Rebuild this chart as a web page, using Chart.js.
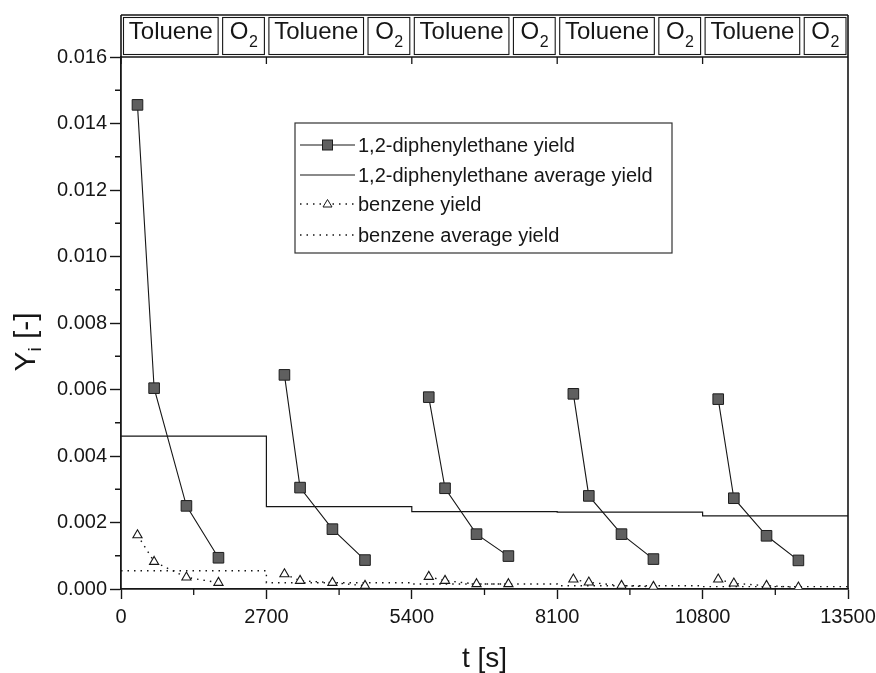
<!DOCTYPE html>
<html>
<head>
<meta charset="utf-8">
<script src="https://cdn.jsdelivr.net/npm/chart.js@4.4.0/dist/chart.umd.min.js"></script>
<style>
  html, body { margin: 0; padding: 0; background: #ffffff; }
  #wrap { width: 876px; height: 673px; }
</style>
</head>
<body>
<div id="wrap"><canvas id="c" width="876" height="673"></canvas></div>
<script>
// ---------------- data ----------------
const cycleStarts = [0, 2700, 5400, 8100, 10800];
const cycleLength = 2700;
const tolueneDuration = 1850;
const phaseLabels = ['Toluene', 'O', '2'];
const xTicks = [0, 2700, 5400, 8100, 10800, 13500];
const yTicks = [0, 0.002, 0.004, 0.006, 0.008, 0.010, 0.012, 0.014, 0.016];

const sampleTimes = [
  306, 615, 1215, 1810,
  3035, 3325, 3926, 4531,
  5715, 6017, 6602, 7194,
  8400, 8687, 9294, 9887,
  11090, 11380, 11987, 12579
];
const dpeYield = [
  0.01456, 0.00604, 0.00250, 0.00094,
  0.00644, 0.00305, 0.00180, 0.00087,
  0.00577, 0.00303, 0.00165, 0.00099,
  0.00587, 0.00280, 0.00165, 0.00090,
  0.00571, 0.00273, 0.00160, 0.00086
];
const benzeneYield = [
  0.00162, 0.00082, 0.00035, 0.00019,
  0.00045, 0.00025, 0.00019, 0.00010,
  0.00037, 0.00025, 0.00015, 0.00015,
  0.00029, 0.00020, 0.00010, 0.00007,
  0.00029, 0.00017, 0.00010, 0.00005
];
const dpeAverage = [0.00460, 0.00248, 0.00233, 0.00231, 0.00220];
const benzeneAverage = [0.00055, 0.00019, 0.00015, 0.00010, 0.00007];

const seriesLabels = [
  '1,2-diphenylethane yield',
  '1,2-diphenylethane average yield',
  'benzene yield',
  'benzene average yield'
];

// ---------------- build datasets from arrays ----------------
function cycleOf(t) {
  let c = 0;
  cycleStarts.forEach((s, i) => { if (t >= s) c = i; });
  return c;
}
function segmented(values) {
  const pts = [];
  sampleTimes.forEach((t, i) => {
    if (i > 0 && cycleOf(t) !== cycleOf(sampleTimes[i - 1])) {
      pts.push({ x: cycleStarts[cycleOf(t)], y: null });
    }
    pts.push({ x: t, y: values[i] });
  });
  return pts;
}
function stepped(values) {
  const pts = cycleStarts.map((s, i) => ({ x: s, y: values[i] }));
  pts.push({ x: cycleStarts[cycleStarts.length - 1] + cycleLength, y: values[values.length - 1] });
  return pts;
}

const INK = '#161616';
const FONT = '"Liberation Sans", Arial, Helvetica, sans-serif';

const datasets = [
  {
    label: seriesLabels[0],
    data: segmented(dpeYield),
    borderColor: INK, borderWidth: 1.1,
    pointStyle: 'rect', pointRadius: 7.5,
    pointBackgroundColor: '#5f5f5f', pointBorderColor: '#1e1e1e', pointBorderWidth: 1,
    spanGaps: false, tension: 0, order: 1
  },
  {
    label: seriesLabels[1],
    data: stepped(dpeAverage),
    borderColor: INK, borderWidth: 1.2,
    stepped: 'before', pointRadius: 0, order: 2
  },
  {
    label: seriesLabels[2],
    data: segmented(benzeneYield),
    borderColor: INK, borderWidth: 1.4, borderDash: [1.5, 5],
    pointStyle: 'triangle', pointRadius: 5.3,
    pointBackgroundColor: '#ffffff', pointBorderColor: INK, pointBorderWidth: 1.1,
    spanGaps: false, tension: 0, order: 0
  },
  {
    label: seriesLabels[3],
    data: stepped(benzeneAverage),
    borderColor: INK, borderWidth: 1.4, borderDash: [1.5, 5],
    stepped: 'before', pointRadius: 0, order: 3
  }
];

// ---------------- decoration plugin ----------------
const decor = {
  id: 'decor',
  afterDraw(chart) {
    const ctx = chart.ctx;
    const a = chart.chartArea;
    const xs = chart.scales.x, ys = chart.scales.y;
    const bandTop = a.top - 42;
    ctx.save();
    ctx.strokeStyle = INK;
    ctx.fillStyle = INK;

    // minor ticks
    ctx.lineWidth = 1.3;
    ctx.beginPath();
    for (let i = 0; i < xTicks.length - 1; i++) {
      const px = xs.getPixelForValue((xTicks[i] + xTicks[i + 1]) / 2);
      ctx.moveTo(px, a.bottom); ctx.lineTo(px, a.bottom + 6);
    }
    for (let i = 0; i < yTicks.length - 1; i++) {
      const py = ys.getPixelForValue((yTicks[i] + yTicks[i + 1]) / 2);
      ctx.moveTo(a.left, py); ctx.lineTo(a.left - 6, py);
    }
    ctx.stroke();

    // frame: right, top, left extension
    ctx.lineWidth = 1.6;
    ctx.beginPath();
    ctx.moveTo(a.right, bandTop); ctx.lineTo(a.right, a.bottom);
    ctx.moveTo(a.left, a.top); ctx.lineTo(a.right, a.top);
    ctx.moveTo(a.left, bandTop); ctx.lineTo(a.left, a.top);
    ctx.moveTo(a.left, bandTop); ctx.lineTo(a.right, bandTop);
    ctx.stroke();

    // top ticks at cycle starts
    ctx.lineWidth = 1.3;
    ctx.beginPath();
    cycleStarts.forEach(s => {
      const px = xs.getPixelForValue(s);
      ctx.moveTo(px, a.top); ctx.lineTo(px, a.top + 7);
    });
    ctx.stroke();

    // phase boxes
    const inset = 2;
    ctx.lineWidth = 1.1;
    cycleStarts.forEach(s => {
      const b0 = xs.getPixelForValue(s);
      const b1 = xs.getPixelForValue(s + tolueneDuration);
      const b2 = xs.getPixelForValue(s + cycleLength);
      const y0 = bandTop + inset + 0.5, y1 = a.top - inset - 0.5;
      ctx.strokeRect(b0 + inset + 0.5, y0, (b1 - b0) - 2 * inset - 1, y1 - y0);
      ctx.strokeRect(b1 + inset, y0, (b2 - b1) - 2 * inset, y1 - y0);
      // labels
      ctx.textAlign = 'center';
      ctx.textBaseline = 'alphabetic';
      ctx.font = '24px ' + FONT;
      ctx.fillText(phaseLabels[0], (b0 + b1) / 2, bandTop + 24);
      const oW = ctx.measureText(phaseLabels[1]).width;
      ctx.font = '16px ' + FONT;
      const sW = ctx.measureText(phaseLabels[2]).width;
      const cx = (b1 + b2) / 2 - (oW + sW) / 2;
      ctx.textAlign = 'left';
      ctx.font = '24px ' + FONT;
      ctx.fillText(phaseLabels[1], cx, bandTop + 24);
      ctx.font = '16px ' + FONT;
      ctx.fillText(phaseLabels[2], cx + oW + 0.5, bandTop + 32);
    });

    // legend
    const lx = a.left + 174, ly = a.top + 66, lw = 377, lh = 130;
    ctx.lineWidth = 1.2;
    ctx.strokeStyle = '#333';
    ctx.strokeRect(lx, ly, lw, lh);
    ctx.strokeStyle = INK;
    const rowY = [22, 52, 81, 112];
    chart.data.datasets.forEach((ds, i) => {
      const y = ly + rowY[i];
      const x0 = lx + 5, x1 = lx + 60, xm = (x0 + x1) / 2;
      ctx.save();
      ctx.lineWidth = ds.borderWidth;
      ctx.setLineDash(ds.borderDash || []);
      ctx.beginPath(); ctx.moveTo(x0, y); ctx.lineTo(x1, y); ctx.stroke();
      ctx.restore();
      if (ds.pointRadius > 0 && ds.pointStyle === 'rect') {
        ctx.fillStyle = ds.pointBackgroundColor;
        ctx.fillRect(xm - 5, y - 5, 10, 10);
        ctx.lineWidth = 1; ctx.strokeStyle = ds.pointBorderColor;
        ctx.strokeRect(xm - 5, y - 5, 10, 10);
        ctx.strokeStyle = INK;
      } else if (ds.pointRadius > 0 && ds.pointStyle === 'triangle') {
        ctx.fillStyle = '#fff';
        ctx.beginPath();
        ctx.moveTo(xm, y - 4.5); ctx.lineTo(xm + 4.5, y + 3); ctx.lineTo(xm - 4.5, y + 3); ctx.closePath();
        ctx.fill(); ctx.lineWidth = 1; ctx.stroke();
      }
      ctx.fillStyle = INK;
      ctx.font = '20px ' + FONT;
      ctx.textAlign = 'left';
      ctx.textBaseline = 'middle';
      ctx.fillText(ds.label, lx + 63, y + 1);
    });

    // axis titles
    ctx.fillStyle = INK;
    ctx.textBaseline = 'alphabetic';
    ctx.font = '28px ' + FONT;
    ctx.textAlign = 'center';
    ctx.fillText('t [s]', (a.left + a.right) / 2, 667);

    ctx.save();
    ctx.translate(35, 342);
    ctx.rotate(-Math.PI / 2);
    ctx.font = '30px ' + FONT;
    const wY = ctx.measureText('Y').width;
    ctx.font = '19px ' + FONT;
    const wi = ctx.measureText('i').width;
    ctx.font = '30px ' + FONT;
    const wR = ctx.measureText(' [-]').width;
    let sx = -(wY + wi + wR) / 2;
    ctx.textAlign = 'left';
    ctx.fillText('Y', sx, 0);
    ctx.font = '19px ' + FONT;
    ctx.fillText('i', sx + wY, 6);
    ctx.font = '30px ' + FONT;
    ctx.fillText(' [-]', sx + wY + wi, 0);
    ctx.restore();

    ctx.restore();
  }
};

new Chart(document.getElementById('c'), {
  type: 'line',
  data: { datasets },
  options: {
    responsive: false,
    animation: false,
    devicePixelRatio: 1,
    layout: { padding: { top: 57, right: 28, left: 0, bottom: 0 } },
    plugins: { legend: { display: false }, tooltip: { enabled: false }, title: { display: false } },
    scales: {
      x: {
        type: 'linear', min: 0, max: 13500,
        afterBuildTicks: s => { s.ticks = xTicks.map(v => ({ value: v })); },
        afterFit: s => { s.height = 84; s.paddingLeft = 0; s.paddingRight = 0; },
        grid: { drawOnChartArea: false, drawTicks: true, tickLength: 10, tickWidth: 1.4, tickColor: INK },
        border: { display: true, color: INK, width: 1.8 },
        ticks: { color: INK, padding: 6, maxRotation: 0, autoSkip: false,
                 font: { family: FONT, size: 20 }, callback: v => String(v) }
      },
      y: {
        type: 'linear', min: 0, max: 0.016,
        afterBuildTicks: s => { s.ticks = yTicks.map(v => ({ value: v })); },
        afterFit: s => { s.width = 121; s.paddingTop = 0; s.paddingBottom = 0; },
        grid: { drawOnChartArea: false, drawTicks: true, tickLength: 11, tickWidth: 1.4, tickColor: INK },
        border: { display: true, color: INK, width: 1.8 },
        ticks: { color: INK, padding: 3, autoSkip: false,
                 font: { family: FONT, size: 20 }, callback: v => v.toFixed(3) }
      }
    }
  },
  plugins: [decor]
});
</script>
</body>
</html>
